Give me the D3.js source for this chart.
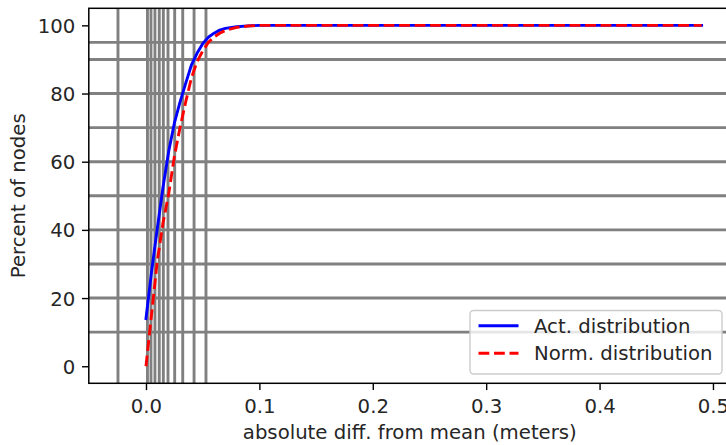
<!DOCTYPE html>
<html>
<head>
<meta charset="utf-8">
<script src="https://cdn.jsdelivr.net/npm/d3@7"></script>
<style>
  html, body { margin: 0; padding: 0; background: #fff; }
  svg { display: block; font-family: "DejaVu Sans", sans-serif; }
</style>
</head>
<body>
<svg id="chart" width="726" height="445"></svg>
<script>
// ---- data ----
const xValues   = [0, 0.005, 0.01, 0.015, 0.02, 0.025, 0.03, 0.035, 0.04, 0.045, 0.05, 0.055, 0.06, 0.065, 0.07, 0.08, 0.09, 0.1, 0.2, 0.3, 0.4, 0.49];
const actDist   = [14, 28, 40.5, 52.5, 63, 71.3, 77.5, 83, 88.3, 91.8, 94.6, 96.5, 97.7, 98.6, 99.1, 99.6, 99.85, 100, 100, 100, 100, 100];
const normDist  = [0, 15.5, 31, 42, 50.5, 61.5, 70, 77.5, 84.5, 89.3, 92.5, 95, 96.6, 97.7, 98.5, 99.4, 99.8, 100, 100, 100, 100, 100];
const hLines    = [10, 20, 30, 40, 50, 60, 70, 80, 90, 95];
const vLines    = [-0.0247, 0.0013, 0.0044, 0.0079, 0.0117, 0.0153, 0.0194, 0.0253, 0.0324, 0.0424, 0.0529];
const xTicks    = [0, 0.1, 0.2, 0.3, 0.4, 0.5];
const yTicks    = [0, 20, 40, 60, 80, 100];
const seriesNames = ["Act. distribution", "Norm. distribution"];
const xLabel = "absolute diff. from mean (meters)";
const yLabel = "Percent of nodes";

// ---- layout ----
const FS = 19.7;
const mLeft = 88.8, mTop = 8.3, plotW = 642, plotH = 375;
const svg = d3.select("#chart");

// matplotlib-like 5% margins
const xmin = d3.min([...xValues, ...vLines]), xmax = d3.max([...xValues, ...vLines]);
const ymin = d3.min([...actDist, ...normDist, ...hLines]), ymax = d3.max([...actDist, ...normDist, ...hLines]);
const xm = (xmax - xmin) * 0.05, ym = (ymax - ymin) * 0.05;
const x = d3.scaleLinear().domain([xmin - xm, xmax + xm]).range([mLeft, mLeft + plotW]);
const y = d3.scaleLinear().domain([ymin - ym, ymax + ym]).range([mTop + plotH, mTop]);

svg.append("defs").append("clipPath").attr("id", "clip")
  .append("rect").attr("x", mLeft).attr("y", mTop).attr("width", plotW).attr("height", plotH);

const plot = svg.append("g").attr("clip-path", "url(#clip)");

// grid-like reference lines
plot.selectAll(".hl").data(hLines).join("line")
  .attr("x1", mLeft).attr("x2", mLeft + plotW)
  .attr("y1", d => y(d)).attr("y2", d => y(d))
  .attr("stroke", "#808080").attr("stroke-width", 2.9);
plot.selectAll(".vl").data(vLines).join("line")
  .attr("y1", mTop).attr("y2", mTop + plotH)
  .attr("x1", d => x(d)).attr("x2", d => x(d))
  .attr("stroke", "#808080").attr("stroke-width", 2.9);

const line = d3.line().x(d => x(d[0])).y(d => y(d[1]));
plot.append("path")
  .datum(xValues.map((v, i) => [v, actDist[i]]))
  .attr("d", line).attr("fill", "none")
  .attr("stroke", "#0000ff").attr("stroke-width", 2.9)
  .attr("stroke-linecap", "square").attr("stroke-linejoin", "round");
plot.append("path")
  .datum(xValues.map((v, i) => [v, normDist[i]]))
  .attr("d", line).attr("fill", "none")
  .attr("stroke", "#ff0000").attr("stroke-width", 2.9)
  .attr("stroke-dasharray", "10.8,4.7")
  .attr("stroke-linejoin", "round");

// axes
const xAxis = d3.axisBottom(x).tickValues(xTicks).tickFormat(d3.format(".1f")).tickSize(6.8).tickPadding(6.8);
const yAxis = d3.axisLeft(y).tickValues(yTicks).tickFormat(d3.format("d")).tickSize(6.8).tickPadding(6.8);

const gx = svg.append("g").attr("transform", `translate(0,${mTop + plotH})`).call(xAxis);
const gy = svg.append("g").attr("transform", `translate(${mLeft},0)`).call(yAxis);
[gx, gy].forEach(g => {
  g.select(".domain").remove();
  g.selectAll(".tick line").attr("stroke", "#000").attr("stroke-width", 1.4);
  g.selectAll(".tick text").attr("fill", "#262626").attr("font-size", FS).attr("font-family", "DejaVu Sans");
});
gx.selectAll(".tick text").attr("dy", null).attr("y", 30.2);
gy.selectAll(".tick text").attr("dy", null).attr("dominant-baseline", "auto").attr("y", 7);

// spines
const spine = svg.append("g").attr("stroke", "#000").attr("stroke-width", 1.5).attr("fill", "none");
spine.append("rect").attr("x", mLeft).attr("y", mTop).attr("width", plotW).attr("height", plotH);

// labels
svg.append("text").attr("x", mLeft + plotW / 2).attr("y", 439)
  .attr("text-anchor", "middle").attr("font-size", FS).attr("fill", "#262626").text(xLabel);
svg.append("text").attr("transform", `translate(25,${mTop + plotH / 2}) rotate(-90)`)
  .attr("text-anchor", "middle").attr("font-size", FS).attr("fill", "#262626").text(yLabel);

// legend
const lg = svg.append("g");
lg.append("rect").attr("x", 470).attr("y", 310.5).attr("width", 252).attr("height", 63.5)
  .attr("rx", 3.5).attr("fill", "#fff").attr("fill-opacity", 0.8)
  .attr("stroke", "#cccccc").attr("stroke-width", 1.4);
const rows = [
  {name: seriesNames[0], color: "#0000ff", dash: null, cy: 325.7},
  {name: seriesNames[1], color: "#ff0000", dash: "10.8,4.7", cy: 353.3}
];
rows.forEach(r => {
  lg.append("line").attr("x1", 478.5).attr("x2", 518.5).attr("y1", r.cy).attr("y2", r.cy)
    .attr("stroke", r.color).attr("stroke-width", 2.9)
    .attr("stroke-dasharray", r.dash);
  lg.append("text").attr("x", 534).attr("y", r.cy + 7).attr("font-size", FS)
    .attr("fill", "#262626").text(r.name);
});
</script>
</body>
</html>
